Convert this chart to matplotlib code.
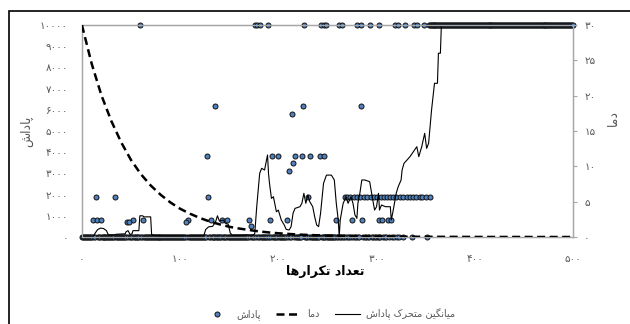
import matplotlib
matplotlib.use('Agg')
import matplotlib.pyplot as plt
from matplotlib.lines import Line2D
from matplotlib.patches import Rectangle

plt.rcParams['font.family'] = ['DejaVu Sans']

# ------------------------------------------------------------
# Persian text: matplotlib does no Arabic shaping, so pick the joined forms here
# (iso, fin, ini, med) ; letters with 2 forms never join to the next one
FORMS = {
    'ا': ('\uFE8D', '\uFE8E'),
    'د': ('\uFEA9', '\uFEAA'),
    'ر': ('\uFEAD', '\uFEAE'),
    'پ': ('\uFB56', '\uFB57', '\uFB58', '\uFB59'),
    'ت': ('\uFE95', '\uFE96', '\uFE97', '\uFE98'),
    'ح': ('\uFEA1', '\uFEA2', '\uFEA3', '\uFEA4'),
    'ش': ('\uFEB5', '\uFEB6', '\uFEB7', '\uFEB8'),
    'ع': ('\uFEC9', '\uFECA', '\uFECB', '\uFECC'),
    'ک': ('\uFB8E', '\uFB8F', '\uFB90', '\uFB91'),
    'گ': ('\uFB92', '\uFB93', '\uFB94', '\uFB95'),
    'م': ('\uFEE1', '\uFEE2', '\uFEE3', '\uFEE4'),
    'ن': ('\uFEE5', '\uFEE6', '\uFEE7', '\uFEE8'),
    'ه': ('\uFEE9', '\uFEEA', '\uFEEB', '\uFEEC'),
    'ی': ('\uFBFC', '\uFBFD', '\uFBFE', '\uFBFF'),
}


def fa(s):
    out = []
    for i, c in enumerate(s):
        f = FORMS.get(c)
        if f is None:
            out.append(c)
            continue
        prev = s[i - 1] if i > 0 else ''
        nxt = s[i + 1] if i + 1 < len(s) else ''
        jp = prev in FORMS and len(FORMS[prev]) == 4
        jn = len(f) == 4 and nxt in FORMS
        if jp and jn:
            out.append(f[3])
        elif jp:
            out.append(f[1])
        elif jn:
            out.append(f[2])
        else:
            out.append(f[0])
    return ''.join(reversed(out))


DIGITS = str.maketrans('0123456789', '۰۱۲۳۴۵۶۷۸۹')


def fa_num(v):
    return str(v).translate(DIGITS)


# ------------------------------------------------------------
# Data
X_TICKS = [0, 100, 200, 300, 400, 500]
Y_TICKS = [0, 1000, 2000, 3000, 4000, 5000, 6000, 7000, 8000, 9000, 10000]
T_TICKS = [0, 5, 10, 15, 20, 25, 30]

XLABEL = 'تعداد تکرارها'
YLABEL = 'پاداش'
TLABEL = 'دما'
LBL_REWARD = 'پاداش'
LBL_TEMP = 'دما'
LBL_MA = 'میانگین متحرک پاداش'

# reward points (iteration, reward)
pts_10000 = [59, 176, 178, 181, 189, 226, 243, 246, 249, 262, 265, 280, 284, 293,
             303, 319, 322, 329, 338, 341, 348] + list(range(353, 501))
pts_6000 = [136, 225, 284]
pts_6000_val = [6200, 6200, 6200]
pts_mid_x = [214, 215, 211, 172, 46, 48, 106]
pts_mid_y = [5800, 3500, 3100, 500, 700, 700, 700]
pts_4000 = [127, 194, 200, 217, 224, 232, 242, 246]
pts_2000 = [14, 34, 128, 230, 268, 270, 273, 277, 280, 283, 287, 290, 294, 297, 300,
            305, 308, 311, 314, 317, 320, 324, 327, 331, 334, 337, 340, 344, 346, 350, 354]
pts_1000 = [11, 15, 19, 52, 62, 108, 131, 143, 148, 170, 192, 209, 259, 275, 285,
            303, 306, 312, 315]

# every other iteration up to 324 sits on zero, then a few stragglers
used = set(pts_6000 + pts_mid_x + pts_4000 + pts_2000 + pts_1000 + pts_10000)
pts_zero = [i for i in range(0, 325) if i not in used] + [327, 336, 351]

# temperature (dashed, right axis)
temp_x = [0, 10, 20, 30, 40, 50, 60, 70, 80, 90, 100, 110, 120, 130, 140, 150,
          160, 170, 180, 190, 200, 220, 240, 260, 300, 350, 400, 500]
temp_y = [30, 24.5, 20.0, 16.4, 13.4, 10.9, 8.9, 7.3, 6.0, 4.9, 4.0, 3.3, 2.7, 2.2,
          1.8, 1.45, 1.2, 1.0, 0.8, 0.65, 0.53, 0.35, 0.24, 0.16, 0.07, 0.03, 0.01, 0.0]

# moving average of reward (solid, left axis)
ma_x = [0, 11, 13, 16, 19, 22, 25, 27, 33, 35, 44, 45, 47, 49, 51, 52, 58, 59, 62, 63,
        70, 71, 80, 124, 126, 129, 133, 136, 138, 140, 144, 146, 149, 151, 153, 175,
        176, 178, 181, 183, 186, 187, 189, 190, 191, 193, 195, 197, 198, 200, 202, 203,
        206, 208, 211, 213, 215, 217, 222, 224, 226, 228, 230, 232, 235, 237, 239, 241,
        243, 246, 249, 254, 257, 259, 261, 262, 263, 266, 269, 271, 274, 276, 278, 280,
        281, 283, 285, 288, 293, 295, 298, 300, 302, 303, 305, 309, 314, 315, 317, 320,
        322, 325, 326, 328, 331, 334, 341, 343, 346, 349, 351, 353, 356, 359, 362, 363,
        365, 366, 500]
ma_y = [0, 0, 150, 350, 420, 400, 300, 100, 100, 130, 150, 250, 300, 120, 150, 300,
        300, 1000, 1000, 950, 950, 100, 50, 50, 350, 480, 500, 700, 1000, 750, 800, 650,
        600, 200, 80, 100,
        170, 1430, 3000, 3240, 3160, 3400, 3870, 3000, 2530, 1820, 1900, 1430, 1190,
        1270, 960, 800, 570, 360, 330, 490, 1120, 1350, 1430, 1590, 2060, 1590, 1980,
        1670, 1430, 960, 570, 490, 1120, 2530, 2920, 2920, 2690, 1590, 800, 20, 800,
        1590, 1900, 1590, 1900, 1590, 1040, 880, 1590, 2060, 2690, 2690, 2610, 2060,
        1270, 1430, 2060, 1270, 1510, 1430, 1430, 800, 1270, 2060, 2370, 2690, 3160,
        3480, 3630, 3790, 4260, 3790, 4260, 4890, 4180, 4420, 5990, 7250, 7250, 8670,
        8670, 10000, 10000]

# ------------------------------------------------------------
GRAY = '#595959'
SPINE = '#a6a6a6'
DOT_FACE = '#4f81bd'
DOT_EDGE = '#111111'

fig = plt.figure(figsize=(6.3, 3.24), dpi=100)
ax = fig.add_axes([0.130, 0.2685, 0.7795, 0.6543])
ax2 = ax.twinx()

dot = dict(linestyle='none', marker='o', ms=3.6, mfc=DOT_FACE, mec=DOT_EDGE,
           mew=0.7, clip_on=False, zorder=3)
ax.plot(pts_zero, [0] * len(pts_zero), **dot)
ax.plot(pts_1000, [800] * len(pts_1000), **dot)
ax.plot(pts_2000, [1900] * len(pts_2000), **dot)
ax.plot(pts_4000, [3800] * len(pts_4000), **dot)
ax.plot(pts_6000, pts_6000_val, **dot)
ax.plot(pts_mid_x, pts_mid_y, **dot)
ax.plot(pts_10000, [10000] * len(pts_10000), **dot)

ax.plot(ma_x, ma_y, color='black', lw=0.8, zorder=4)
ax2.plot(temp_x, temp_y, color='black', lw=1.8, dashes=(3.2, 1.8), zorder=5)

ax.set_xlim(0, 500)
ax.set_ylim(0, 10000)
ax2.set_ylim(0, 30)

ax.set_xticks(X_TICKS)
ax.set_xticklabels([fa_num(v) for v in X_TICKS], fontsize=7.5, color=GRAY)
ax.set_yticks(Y_TICKS)
ax.set_yticklabels([fa_num(v) for v in Y_TICKS], fontsize=7.5, color=GRAY)
ax2.set_yticks(T_TICKS)
ax2.set_yticklabels([fa_num(v) for v in T_TICKS], fontsize=7.5, color=GRAY)

ax.tick_params(axis='x', length=0, pad=12)
ax.tick_params(axis='y', length=0, pad=10)
ax2.tick_params(axis='y', length=3, width=0.8, color=SPINE, direction='out', pad=5)

for a in (ax, ax2):
    for s in a.spines.values():
        s.set_color(SPINE)
        s.set_linewidth(0.9)

fig.text(0.516, 1 - 272 / 324, fa(XLABEL), ha='center', va='center',
         fontsize=9, fontweight='bold', color='black')
fig.text(27 / 630, 1 - 131 / 324, fa(YLABEL), ha='center', va='center',
         rotation=90, fontsize=9, color=GRAY)
fig.text(613 / 630, 1 - 118 / 324, fa(TLABEL), ha='center', va='center',
         rotation=90, fontsize=9, color=GRAY)

handles = [
    Line2D([], [], linestyle='none', marker='o', ms=3.6, mfc=DOT_FACE, mec=DOT_EDGE, mew=0.7),
    Line2D([], [], color='black', lw=1.8, dashes=(3.2, 1.8)),
    Line2D([], [], color='black', lw=0.8),
]
labels = [fa(LBL_REWARD), fa(LBL_TEMP), fa(LBL_MA)]
leg = fig.legend(handles, labels, loc='center', bbox_to_anchor=(0.524, 1 - 314 / 324),
                 ncol=3, frameon=False, fontsize=7, handlelength=2.6,
                 columnspacing=1.6, handletextpad=0.6)
for t in leg.get_texts():
    t.set_color(GRAY)

# outer chart border (only left and top edges are in view)
fig.patches.append(Rectangle((9 / 630, -0.1), 1.2, 1 - 11 / 324 + 0.1, fill=False,
                             ec='black', lw=1.2, transform=fig.transFigure, figure=fig))

fig.savefig('out.png', dpi=100)
